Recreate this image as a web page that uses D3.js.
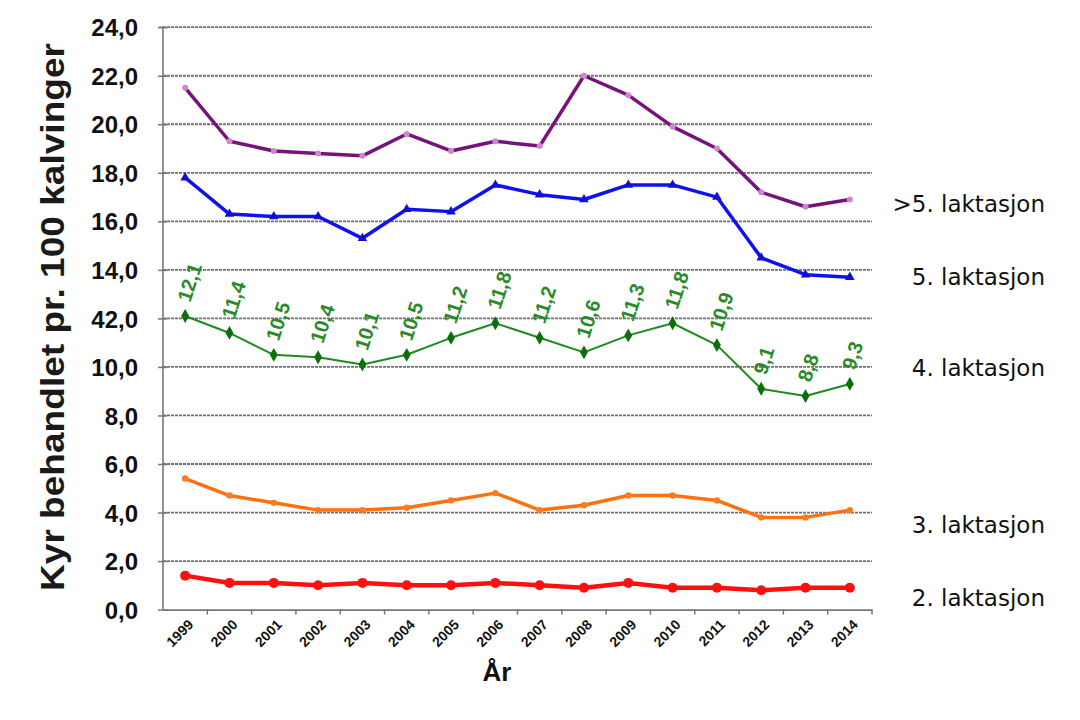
<!DOCTYPE html>
<html><head><meta charset="utf-8">
<script src="https://cdn.jsdelivr.net/npm/d3@7"></script>
<style>body{margin:0;background:#fff}</style>
</head><body>
<svg id="c" width="1080" height="720"></svg>
<script>
const years = ["1999","2000","2001","2002","2003","2004","2005","2006","2007","2008","2009","2010","2011","2012","2013","2014"];
const yTickValues = [0,2,4,6,8,10,12,14,16,18,20,22,24];
const yTickLabels = ["0,0","2,0","4,0","6,0","8,0","10,0","42,0","14,0","16,0","18,0","20,0","22,0","24,0"];
const lakt6 = [21.5,19.3,18.9,18.8,18.7,19.6,18.9,19.3,19.1,22.0,21.2,19.9,19.0,17.2,16.6,16.9];
const lakt5 = [17.8,16.3,16.2,16.2,15.3,16.5,16.4,17.5,17.1,16.9,17.5,17.5,17.0,14.5,13.8,13.7];
const lakt4 = [12.1,11.4,10.5,10.4,10.1,10.5,11.2,11.8,11.2,10.6,11.3,11.8,10.9,9.1,8.8,9.3];
const lakt3 = [5.4,4.7,4.4,4.1,4.1,4.2,4.5,4.8,4.1,4.3,4.7,4.7,4.5,3.8,3.8,4.1];
const lakt2 = [1.4,1.1,1.1,1.0,1.1,1.0,1.0,1.1,1.0,0.9,1.1,0.9,0.9,0.8,0.9,0.9];
const seriesNames = [">5. laktasjon","5. laktasjon","4. laktasjon","3. laktasjon","2. laktasjon"];

const svg = d3.select("#c");
const L = 163, R = 872, T = 27.2, B = 609.6;
const x = d3.scaleBand().domain(years).range([L, R]).padding(0);
const y = d3.scaleLinear().domain([0, 24]).range([B, T]);
const cx = d => x(d) + x.bandwidth()/2;

// gridlines
svg.append("g").selectAll("line").data(yTickValues.filter(v => v > 0)).join("line")
  .attr("x1", L).attr("x2", R).attr("y1", d => y(d)).attr("y2", d => y(d))
  .attr("stroke", "#6e6e6e").attr("stroke-width", 1.8).attr("stroke-dasharray", "3,1");

// y axis
const yAxis = d3.axisLeft(y).tickValues(yTickValues).tickSize(4)
  .tickFormat((d, i) => yTickLabels[i]);
const gy = svg.append("g").attr("transform", `translate(${L},0)`).call(yAxis);
gy.select(".domain").attr("stroke", "#777").attr("stroke-width", 1.6).attr("d", `M-4,${T}H0V${B}`);
gy.selectAll(".tick line").attr("stroke", "#777").attr("stroke-width", 1.5).attr("x1", 4).attr("x2", -5);
gy.selectAll(".tick text").attr("x", -25).attr("dy", "0.36em")
  .attr("font-family", "Liberation Sans, Arial, sans-serif").attr("font-weight", "bold")
  .attr("font-size", 24).attr("fill", "#111");

// x axis
const xAxis = d3.axisBottom(x).tickSize(0);
const gx = svg.append("g").attr("transform", `translate(0,${B})`).call(xAxis);
gx.select(".domain").attr("stroke", "#777").attr("stroke-width", 1.6);
gx.selectAll(".tick text")
  .attr("font-family", "Liberation Sans, Arial, sans-serif").attr("font-weight", "bold")
  .attr("font-size", 14).attr("fill", "#111")
  .attr("text-anchor", "end").attr("dy", 0).attr("y", 0)
  .attr("transform", "translate(9,16) rotate(-45)");
svg.append("g").selectAll("line").data(years.slice(1).concat(["end"])).join("line")
  .attr("x1", (d, i) => L + (i + 1) * x.bandwidth()).attr("x2", (d, i) => L + (i + 1) * x.bandwidth())
  .attr("y1", B).attr("y2", B + 5).attr("stroke", "#777").attr("stroke-width", 1.5);

// axis titles
svg.append("text").attr("transform", `translate(64,${(42+592)/2}) rotate(-90)`)
  .attr("text-anchor", "middle").attr("font-family", "Liberation Sans, Arial, sans-serif")
  .attr("font-weight", "bold").attr("font-size", 34).attr("fill", "#1a1a1a")
  .attr("textLength", 548).attr("lengthAdjust", "spacingAndGlyphs")
  .text("Kyr behandlet pr. 100 kalvinger");
svg.append("text").attr("x", 497).attr("y", 681).attr("text-anchor", "middle")
  .attr("font-family", "Liberation Sans, Arial, sans-serif").attr("font-weight", "bold")
  .attr("font-size", 26).attr("fill", "#111").text("År");

const line = d3.line().x((d, i) => cx(years[i])).y(d => y(d));
const series = [
  {data: lakt6, color: "#76127a", w: 3.5, marker: "circle", mfill: "#cc88cc", ms: 3},
  {data: lakt5, color: "#1010f0", w: 3.5, marker: "triangle", mfill: "#1010d0", ms: 4},
  {data: lakt4, color: "#1f8a1f", w: 2, marker: "diamond", mfill: "#0e6e0e", ms: 4.5},
  {data: lakt3, color: "#ff7010", w: 3.5, marker: "circle", mfill: "#ff7a20", ms: 3.2},
  {data: lakt2, color: "#ff1010", w: 4.5, marker: "circle", mfill: "#ff1010", ms: 5}
];
series.forEach(s => {
  svg.append("path").datum(s.data).attr("d", line).attr("fill", "none")
    .attr("stroke", s.color).attr("stroke-width", s.w).attr("stroke-linejoin", "round");
  const g = svg.append("g");
  if (s.marker === "circle") {
    g.selectAll("circle").data(s.data).join("circle")
      .attr("cx", (d, i) => cx(years[i])).attr("cy", d => y(d)).attr("r", s.ms).attr("fill", s.mfill);
  } else {
    const sym = s.marker === "triangle" ? d3.symbolTriangle : d3.symbolDiamond;
    const size = s.marker === "triangle" ? 40 : 55;
    g.selectAll("path").data(s.data).join("path")
      .attr("d", d3.symbol().type(sym).size(size))
      .attr("transform", (d, i) => `translate(${cx(years[i])},${y(d)})`).attr("fill", s.mfill);
  }
});

// green data labels
svg.append("g").selectAll("text").data(lakt4).join("text")
  .attr("transform", (d, i) => `translate(${cx(years[i]) + 5},${y(d) - 13}) rotate(-72)`)
  .attr("font-family", "Liberation Sans, Arial, sans-serif").attr("font-weight", "bold")
  .attr("font-size", 20).attr("fill", "#2a8a2a")
  .text(d => d3.format(".1f")(d).replace(".", ","));

// series labels
const labelY = [212, 285, 376, 533, 606];
svg.append("g").selectAll("text").data(seriesNames).join("text")
  .attr("x", 1045).attr("y", (d, i) => labelY[i]).attr("text-anchor", "end")
  .attr("font-family", "DejaVu Sans, sans-serif").attr("font-size", 23).attr("fill", "#111")
  .text(d => d);
</script>
</body></html>
